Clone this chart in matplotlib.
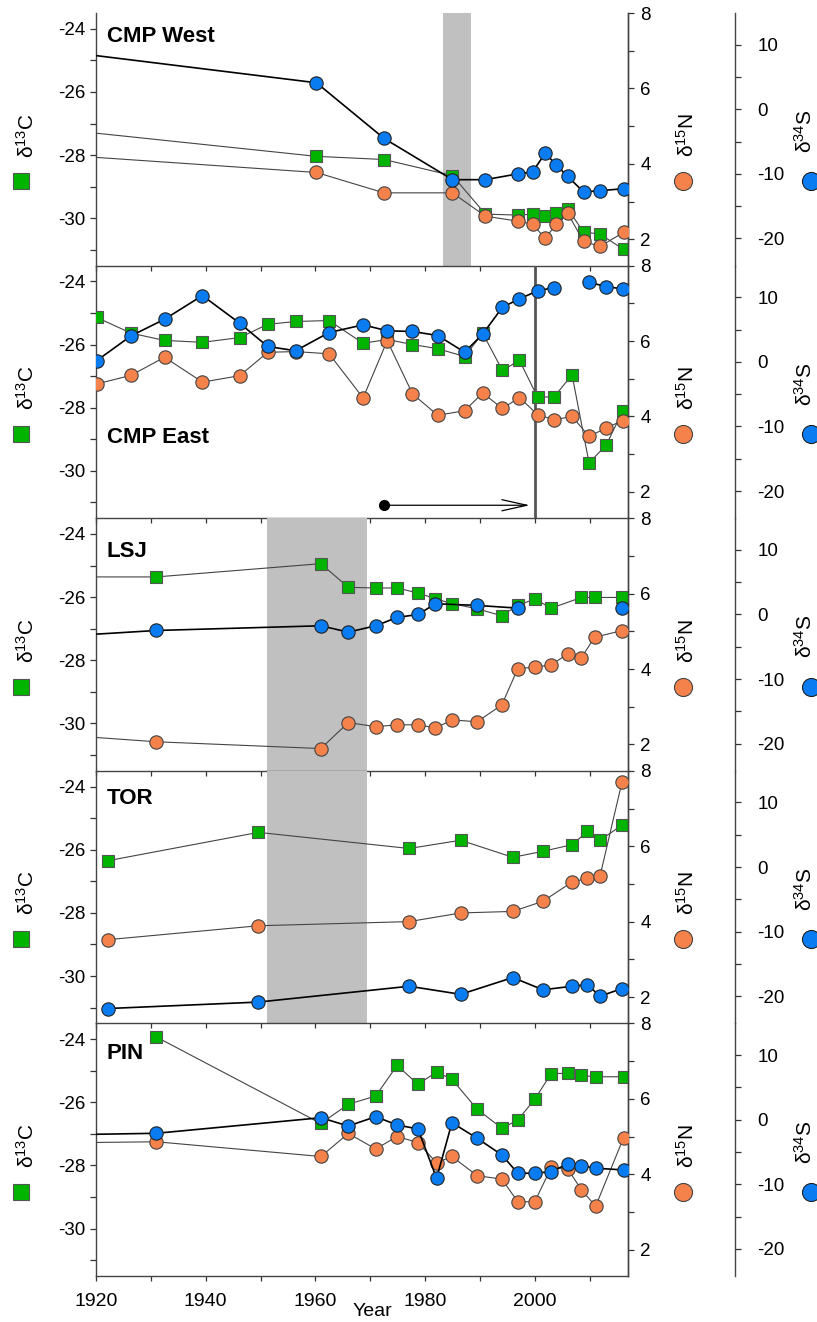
import matplotlib
matplotlib.use("Agg")
import matplotlib.pyplot as plt
import numpy as np
from matplotlib.lines import Line2D

plt.rcParams['font.family'] = ['Liberation Sans', 'DejaVu Sans']
plt.rcParams['mathtext.fontset'] = 'custom'
plt.rcParams['mathtext.rm'] = 'Liberation Sans'
plt.rcParams['mathtext.it'] = 'Liberation Sans:italic'
plt.rcParams['mathtext.bf'] = 'Liberation Sans:bold'
plt.rcParams['axes.unicode_minus'] = False

# ---- data ----
sites = ["CMP West", "CMP East", "LSJ", "TOR", "PIN"]

# CMP West
cmpw_years = [1900, 1960.2, 1972.5, 1985.0, 1991.0, 1996.9, 1999.6, 2001.9, 2003.9, 2006.0, 2008.9, 2011.9, 2016.2]
cmpw_c13 = [-26.94, -28.04, -28.14, -28.65, -29.87, -29.90, -29.87, -29.93, -29.84, -29.70, -30.44, -30.50, -30.99]
cmpw_n15 = [4.37, 3.77, 3.23, 3.23, 2.61, 2.48, 2.40, 2.02, 2.40, 2.69, 1.94, 1.81, 2.18]
cmpw_s34 = [10.4, 4.1, -4.5, -10.9, -10.9, -10.0, -9.7, -6.8, -8.6, -10.4, -12.8, -12.6, -12.3]

# CMP East
cmpe_years = [1920.1, 1926.4, 1932.5, 1939.4, 1946.2, 1951.3, 1956.4, 1962.5, 1968.7, 1973.1, 1977.7,
              1982.3, 1987.2, 1990.5, 1994.1, 1997.2, 2000.5, 2003.5, 2006.8, 2009.9, 2013.0, 2016.0]
cmpe_c13 = [-25.14, -25.64, -25.87, -25.93, -25.78, -25.36, -25.27, -25.24, -25.96, -25.84, -26.0,
            -26.13, -26.38, -25.64, -26.82, -26.50, -27.66, -27.66, -26.96, -29.75, -29.19, -28.12]
cmpe_n15 = [4.86, 5.09, 5.57, 4.91, 5.08, 5.70, 5.72, 5.66, 4.49, 6.01, 4.60,
            4.03, 4.15, 4.62, 4.21, 4.50, 4.05, 3.91, 4.00, 3.47, 3.69, 3.89]
cmpe_s34 = [0.17, 4.03, 6.6, 10.26, 5.98, 2.38, 1.72, 4.54, 5.73, 4.81, 4.7,
            4.08, 1.5, 4.28, 8.46, 9.75, 10.99, 11.5, np.nan, 12.32, 11.65, 11.3]

# LSJ
lsj_c13_years = [1900, 1931.0, 1961.0, 1966.0, 1971.0, 1974.9, 1978.7, 1981.9, 1985.0, 1989.5,
                 1994.0, 1996.9, 2000.0, 2003.0, 2008.5, 2010.9, 2015.9]
lsj_c13 = [-25.36, -25.36, -24.94, -25.69, -25.71, -25.71, -25.87, -26.05, -26.21, -26.37,
           -26.59, -26.26, -26.06, -26.35, -26.01, -26.01, -26.01]
lsj_n15_years = [1900, 1931.0, 1961.0, 1966.0, 1971.0, 1974.9, 1978.7, 1981.9, 1985.0, 1989.5,
                 1994.0, 1996.9, 2000.0, 2003.0, 2006.0, 2008.5, 2010.9, 2015.9]
lsj_n15 = [2.39, 2.07, 1.89, 2.58, 2.47, 2.52, 2.52, 2.44, 2.65, 2.60,
           3.05, 4.01, 4.05, 4.11, 4.40, 4.30, 4.84, 5.02]
lsj_s34_years = [1900, 1931.0, 1961.0, 1966.0, 1971.0, 1974.9, 1978.7, 1981.9, 1989.5, 1996.9, 2006.0, 2015.9]
lsj_s34 = [-4.09, -2.48, -1.75, -2.74, -1.75, -0.46, 0.0, 1.66, 1.40, 0.98, np.nan, 0.98]

# TOR
tor_years = [1922.1, 1949.6, 1977.1, 1986.5, 1996.0, 2001.5, 2006.8, 2009.6, 2011.9, 2015.9]
tor_c13 = [-26.35, -25.45, -25.96, -25.70, -26.24, -26.05, -25.84, -25.42, -25.70, -25.22]
tor_n15 = [3.52, 3.89, 4.00, 4.23, 4.27, 4.54, 5.05, 5.15, 5.21, 7.70]
tor_s34 = [-21.9, -20.9, -18.45, -19.7, -17.1, -19.0, -18.45, -18.2, -20.0, -18.8]

# PIN
pin_years = [1900, 1931.0, 1961.0, 1966.0, 1971.0, 1974.9, 1978.7, 1982.1, 1984.9, 1989.5,
             1994.0, 1996.9, 2000.0, 2003.0, 2006.0, 2008.5, 2011.1, 2016.2]
pin_c13 = [np.nan, -23.93, -26.67, -26.06, -25.80, -24.83, -25.43, -25.04, -25.27, -26.22,
           -26.82, -26.56, -25.90, -25.09, -25.08, -25.15, -25.19, -25.19]
pin_n15 = [4.81, 4.86, 4.47, 5.08, 4.67, 5.00, 4.84, 4.30, 4.47, 3.96,
           3.87, 3.27, 3.27, 4.18, 4.14, 3.59, 3.15, 4.97]
pin_s34 = [-2.54, -2.11, 0.30, -0.98, 0.46, -0.82, -1.44, -9.07, -0.47, -2.88,
           -5.46, -8.29, -8.29, -8.04, -6.86, -7.11, -7.52, -7.78]

panel_data = [
    (cmpw_years, cmpw_c13, cmpw_years, cmpw_n15, cmpw_years, cmpw_s34),
    (cmpe_years, cmpe_c13, cmpe_years, cmpe_n15, cmpe_years, cmpe_s34),
    (lsj_c13_years, lsj_c13, lsj_n15_years, lsj_n15, lsj_s34_years, lsj_s34),
    (tor_years, tor_c13, tor_years, tor_n15, tor_years, tor_s34),
    (pin_years, pin_c13, pin_years, pin_n15, pin_years, pin_s34),
]

# shaded periods (start, end) per panel
shades = [[(1983.2, 1988.3)], [], [(1951.1, 1969.4)], [(1951.1, 1969.4)], []]

# where the site name sits (axes fraction, from bottom)
name_y = [0.905, 0.32, 0.87, 0.89, 0.88]

GREEN = '#00B400'
ORANGE = '#F4824A'
BLUE = '#0A7CF2'

W, H = 817, 1322
fig = plt.figure(figsize=(W / 100, H / 100), dpi=100)

x0, x1 = 96 / W, 628 / W
top_px, bot_px = 13, 1276
ph = (bot_px - top_px) / 5

for i, name in enumerate(sites):
    yt = top_px + i * ph
    ax = fig.add_axes([x0, 1 - (yt + ph) / H, x1 - x0, ph / H])
    ax.set_facecolor('none')
    axn = ax.twinx()
    axs = ax.twinx()
    axs.spines['right'].set_position(('axes', (735 - 96) / (628 - 96)))

    cy, c13, ny, n15, sy, s34 = panel_data[i]

    for a, b in shades[i]:
        ax.axvspan(a, b, color='#C0C0C0', lw=0, zorder=0)

    ax.plot(cy, c13, color='#444444', lw=0.8, marker='s', ms=8.2, mfc=GREEN,
            mec='#555555', mew=0.8, zorder=3)
    axn.plot(ny, n15, color='#444444', lw=0.8, marker='o', ms=9.6, mfc=ORANGE,
             mec='#444444', mew=0.8, zorder=3)
    axs.plot(sy, s34, color='black', lw=1.2, marker='o', ms=9.6, mfc=BLUE,
             mec='#222222', mew=0.8, zorder=3)

    ax.set_xlim(1920, 2017)
    ax.set_ylim(-31.5, -23.5)
    axn.set_ylim(1.3, 8.0)
    axs.set_ylim(-24.2, 14.9)

    ax.set_xticks(range(1920, 2020, 20))
    ax.set_xticks(range(1930, 2020, 20), minor=True)
    ax.set_yticks([-30, -28, -26, -24])
    ax.set_yticks([-31, -29, -27, -25], minor=True)
    axn.set_yticks([2, 4, 6, 8])
    axn.set_yticks([3, 5, 7], minor=True)
    axs.set_yticks([-20, -10, 0, 10])
    axs.set_yticks([-15, -5, 5], minor=True)

    for a in (ax, axn, axs):
        a.tick_params(which='both', direction='out', width=0.9, colors='#333333',
                      labelcolor='black', labelsize=13.5, length=4)
        a.spines['top'].set_visible(False)
        for s in a.spines.values():
            s.set_color('#444444')
            s.set_linewidth(1.0)
    ax.tick_params(axis='x', which='both', length=3.5)
    for s in ('left', 'bottom'):
        axn.spines[s].set_visible(False)
        axs.spines[s].set_visible(False)
    axs.tick_params(axis='y', pad=12)
    axn.tick_params(axis='y', pad=5)

    if i < 4:
        ax.tick_params(axis='x', labelbottom=False)
    else:
        ax.tick_params(axis='x', labelsize=14, pad=9)

    # site label
    ax.text(0.02, name_y[i], name, transform=ax.transAxes, fontsize=16,
            fontweight='bold', ha='left', va='center')
    if name == "CMP East":
        ax.axvline(2000.1, color='#555555', lw=2.0, zorder=2)
        ax.plot([1972.6], [-31.09], 'o', color='black', ms=7, zorder=4)
        ax.annotate('', xy=(1999.6, -31.09), xytext=(1972.6, -31.09),
                    arrowprops=dict(arrowstyle='->,head_length=1.8,head_width=0.4',
                                    color='black', lw=0.9))

    # axis labels with marker keys
    cyp = yt + ph / 2
    fig.text(27 / W, 1 - (cyp - 4) / H, 'δ$^{13}$C', rotation=90, fontsize=15,
             ha='center', va='center')
    fig.text(687 / W, 1 - (cyp - 4) / H, 'δ$^{15}$N', rotation=90, fontsize=15,
             ha='center', va='center')
    fig.text(805 / W, 1 - (cyp - 8) / H, 'δ$^{34}$S', rotation=90, fontsize=15,
             ha='center', va='center')
    fig.add_artist(Line2D([21 / W], [1 - (cyp + 42) / H], marker='s', ms=12,
                          mfc=GREEN, mec='#555555', mew=0.8, transform=fig.transFigure))
    fig.add_artist(Line2D([683 / W], [1 - (cyp + 42) / H], marker='o', ms=13,
                          mfc=ORANGE, mec='#444444', mew=0.8, transform=fig.transFigure))
    fig.add_artist(Line2D([811 / W], [1 - (cyp + 42) / H], marker='o', ms=13,
                          mfc=BLUE, mec='#222222', mew=0.8, transform=fig.transFigure))

fig.text(372 / W, 1 - 1311 / H, 'Year', fontsize=14, ha='center', va='center')

fig.savefig('out.png', dpi=100)
